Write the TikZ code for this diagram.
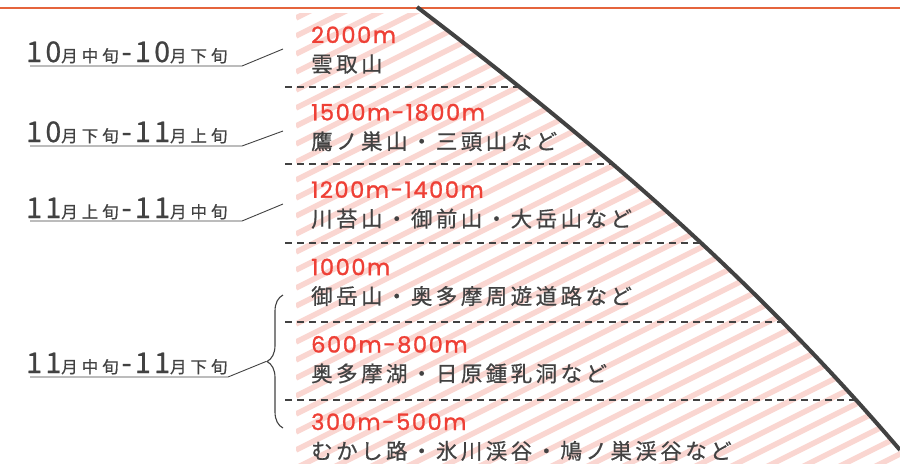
\documentclass[tikz,border=0pt]{standalone}
\usepackage{fontspec}
\usetikzlibrary{decorations.pathreplacing}
\newfontfamily\jpfont{Noto Sans CJK JP}[LetterSpace=16,FakeBold=0.6]
\newfontfamily\altfont{Poppins}[LetterSpace=7,FakeBold=1.2]
\newfontfamily\jpnum{Noto Sans CJK JP}[LetterSpace=12,FakeBold=0.8]
\newfontfamily\jpsmall{Noto Sans CJK JP}[LetterSpace=24,FakeBold=0.6]
\definecolor{altred}{HTML}{EE4036}
\definecolor{inkgray}{HTML}{424242}
\definecolor{topred}{HTML}{E5643C}
\definecolor{hatchpink}{HTML}{FAD6D1}
\tikzset{
    altlabel/.style = {
        anchor=base west,
        inner sep=0pt,
        text=altred,
        font=\altfont\fontsize{22.5}{26}\selectfont
    },
    placelabel/.style = {
        anchor=base west,
        inner sep=0pt,
        text=inkgray,
        font=\jpfont\fontsize{21.5}{24}\selectfont
    },
    period/.style = {
        anchor=base west,
        inner sep=0pt,
        text=inkgray
    },
    leader/.style = {
        draw=inkgray,
        line width=0.9pt
    },
    stripe/.style = {
        draw=hatchpink,
        line width=5.5pt
    },
    sep/.style = {
        draw=inkgray,
        line width=1.3pt,
        dash pattern=on 7pt off 5pt
    },
    ridge/.style = {
        draw=inkgray,
        line width=4pt
    },
    topline/.style = {
        draw=topred,
        line width=2.5pt
    },
    bracket/.style = {
        draw=inkgray,
        line width=1.1pt,
        decorate,
        decoration={brace,amplitude=16pt}
    }
}
\newcommand{\num}[1]{{\jpnum\fontsize{28.5}{30}\selectfont #1}}
\newcommand{\kan}[1]{{\jpsmall\fontsize{16.5}{18}\selectfont #1}}
\newcommand{\period}[4]{\num{#1}\kan{#2}\hspace{3pt}\num{-}\num{#3}\kan{#4}}

\begin{document}
\begin{tikzpicture}[x=1pt,y=-1pt]
\useasboundingbox (0,0) rectangle (900,475);
\coordinate (peak) at (417,7);
\coordinate (c1) at (577,129);
\coordinate (c2) at (740,263);
\coordinate (foot) at (900,450);

\begin{scope}
\clip (296,13) rectangle (900,463);
\clip (296,0) -- (peak) .. controls (c1) and (c2) .. (foot) -- (900,475) -- (296,475) -- cycle;
\foreach \k in {0,...,46}
    \draw[stripe] (296,\k*18) -- ++(800,-400);
\end{scope}

\begin{scope}
\clip (0,0) -- (peak) .. controls (c1) and (c2) .. (foot) -- (900,475) -- (0,475) -- cycle;
\foreach \y in {87,164,243,322,400}
    \draw[sep] (285,\y) -- (900,\y);
\end{scope}

\draw[topline] (0,8) -- (900,8);
\draw[ridge] (peak) .. controls (c1) and (c2) .. (foot);

\foreach \h/\p [count=\i] in {2000m/雲取山,
    1500m-1800m/鷹ノ巣山・三頭山など,
    1200m-1400m/川苔山・御前山・大岳山など,
    1000m/御岳山・奥多摩周遊道路など,
    600m-800m/奥多摩湖・日原鍾乳洞など,
    300m-500m/むかし路・氷川渓谷・鳩ノ巣渓谷など}{
    \node[altlabel] (alt\i) at (311,{43+77.4*(\i-1)}) {\h};
    \node[placelabel] (place\i) at (311,{72+77.4*(\i-1)}) {\p};
}

\node[period] (p1) at (26,62) {\period{10}{月中旬}{10}{月下旬}};
\node[period] (p2) at (26,142) {\period{10}{月下旬}{11}{月上旬}};
\node[period] (p3) at (26,218) {\period{11}{月上旬}{11}{月中旬}};
\node[period] (p4) at (26,373) {\period{11}{月中旬}{11}{月下旬}};

\coordinate (btop) at (283,295);
\coordinate (bbot) at (283,428);
\coordinate (btip) at (266,361.5);
\draw[bracket] (bbot) -- (btop);

\foreach \i/\u/\k/\t in {1/66/242/49, 2/146/242/131, 3/221/242/204}{
    \coordinate (u\i) at (30,\u);
    \coordinate (k\i) at (\k,\u);
    \coordinate (t\i) at (283,\t);
    \draw[leader] (u\i) -- (k\i) -- (t\i);
}
\coordinate (u4) at (30,377);
\coordinate (k4) at (228,377);
\draw[leader] (u4) -- (k4) -- (btip);
\end{tikzpicture}
\end{document}
